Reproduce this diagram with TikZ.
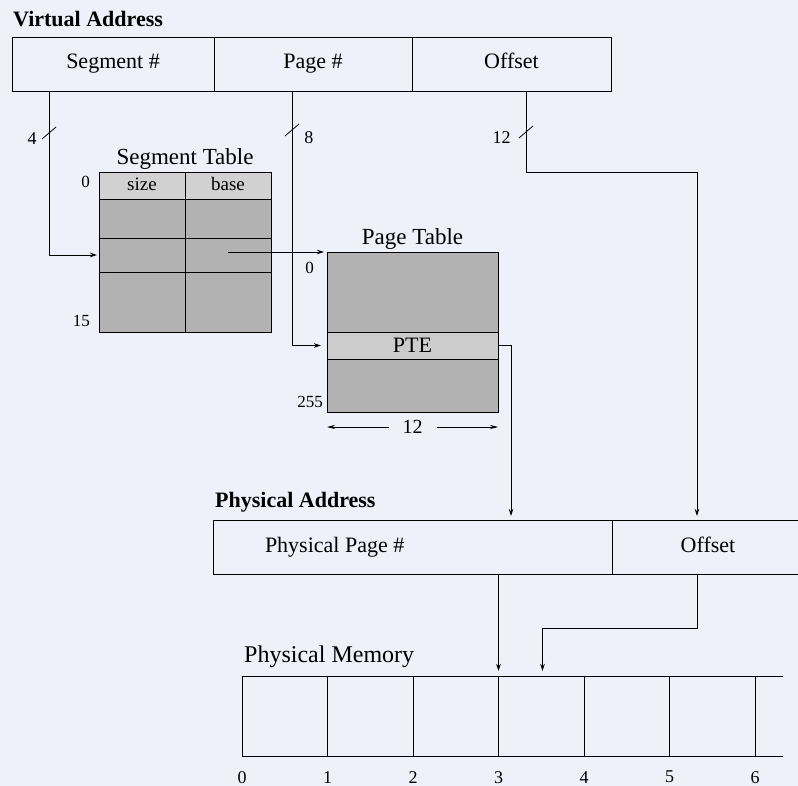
\documentclass[tikz,border=0pt]{standalone}
\usepackage{fontspec}
\setmainfont{Liberation Serif}
\usepackage{xcolor}
\usetikzlibrary{arrows.meta,positioning}
\definecolor{paper}{RGB}{238,240,250}

\begin{document}
\begin{tikzpicture}[
    x=1pt, y=-1pt,
    field/.style={draw, line width=0.9pt, minimum height=54pt, inner sep=0pt, outer sep=0pt, text height=15pt, text depth=5pt, font=\fontsize{22}{26}\selectfont},
    cell/.style={draw, line width=0.9pt, fill=black!30, inner sep=0pt, outer sep=0pt, minimum width=86pt},
    memframe/.style={draw, line width=0.9pt, minimum width=85.5pt, minimum height=80pt, inner sep=0pt, outer sep=0pt},
    title/.style={font=\fontsize{22}{26}\selectfont\bfseries, inner sep=0pt},
    caption/.style={font=\fontsize{23}{27}\selectfont, inner sep=0pt},
    idx/.style={font=\fontsize{17}{20}\selectfont, inner sep=0pt},
    tick/.style={line width=0.8pt},
    arrow/.style={-{Stealth[length=7pt,width=4.5pt]}, line width=0.9pt},
    dim/.style={{Stealth[length=8pt,width=4pt]}-{Stealth[length=8pt,width=4pt]}, line width=0.7pt}
]
\fill[paper] (0,0) rectangle (798,786);
\useasboundingbox (0,0) rectangle (798,786);

% virtual address
\node[field, minimum width=202pt] (va-seg) at (113,64) {Segment \#};
\node[field, minimum width=198pt, right=0pt of va-seg] (va-page) {Page \#};
\node[field, minimum width=199pt, right=0pt of va-page] (va-off) {Offset};
\node[title, anchor=base west] (va-title) at ([xshift=1pt,yshift=10pt]va-seg.north west) {Virtual Address};

% segment table
\node[cell, fill=black!18, minimum height=27pt, text height=12pt, text depth=2pt, font=\fontsize{19}{22}\selectfont] (st-size) at (142,185.5) {size};
\node[cell, fill=black!18, minimum height=27pt, text height=12pt, text depth=2pt, font=\fontsize{19}{22}\selectfont, right=0pt of st-size] (st-base) {base};
\node[cell, minimum height=39pt, below=0pt of st-size] (st-r1a) {};
\node[cell, minimum height=39pt, right=0pt of st-r1a] (st-r1b) {};
\node[cell, minimum height=34pt, below=0pt of st-r1a] (st-r2a) {};
\node[cell, minimum height=34pt, right=0pt of st-r2a] (st-r2b) {};
\node[cell, minimum height=60pt, below=0pt of st-r2a] (st-r3a) {};
\node[cell, minimum height=60pt, right=0pt of st-r3a] (st-r3b) {};
\node[caption, anchor=base] (st-title) at ([yshift=7pt]st-size.north east) {Segment Table};
\node[idx, anchor=east] (st-first) at ([xshift=-9pt,yshift=4pt]st-size.west) {0};
\node[idx, anchor=south east] (st-last) at ([xshift=-9pt,yshift=5pt]st-r3a.south west) {15};

% page table
\node[cell, minimum width=171pt, minimum height=80pt] (pt-top) at (412.5,292) {};
\node[cell, fill=black!20, minimum width=171pt, minimum height=27pt, font=\fontsize{22}{26}\selectfont, below=0pt of pt-top] (pt-pte) {PTE};
\node[cell, minimum width=171pt, minimum height=53pt, below=0pt of pt-pte] (pt-bot) {};
\node[caption, anchor=base] (pt-title) at ([yshift=7pt]pt-top.north) {Page Table};
\node[idx, anchor=north east] (pt-first) at ([xshift=-13pt,yshift=-10pt]pt-top.north west) {0};
\node[idx, anchor=south east] (pt-last) at ([xshift=-4pt,yshift=4pt]pt-bot.south west) {255};
\draw[dim] ([yshift=-15pt]pt-bot.south west) -- ([yshift=-15pt]pt-bot.south east)
    node[midway, fill=paper, inner xsep=14pt, inner ysep=0pt, font=\fontsize{20}{24}\selectfont] (pt-width) {12};

% physical address
\node[field, minimum width=399pt] (pa-page) at (412.5,547) {};
\node[field, draw=none, minimum height=0pt, anchor=west] (pa-page-text) at ([xshift=52pt]pa-page.west) {Physical Page \#};
\node[field, minimum width=192pt, right=0pt of pa-page] (pa-off) {Offset};
\node[title, anchor=base west] (pa-title) at ([xshift=2pt,yshift=13pt]pa-page.north west) {Physical Address};

% physical memory
\node[memframe] (mem0) at (284.75,716) {};
\node[memframe, right=0pt of mem0] (mem1) {};
\node[memframe, right=0pt of mem1] (mem2) {};
\node[memframe, right=0pt of mem2] (mem3) {};
\node[memframe, right=0pt of mem3] (mem4) {};
\node[memframe, right=0pt of mem4] (mem5) {};
\draw[line width=0.9pt] (mem5.north east) -- ++(28,0);
\draw[line width=0.9pt] (mem5.south east) -- ++(28,0);
\node[caption, font=\fontsize{24}{28}\selectfont, anchor=base west] (mem-title) at ([xshift=2pt,yshift=14pt]mem0.north west) {Physical Memory};
\node[idx, font=\fontsize{18}{22}\selectfont, anchor=north] (mem-n0) at ([yshift=-15pt]mem0.south west) {0};
\node[idx, font=\fontsize{18}{22}\selectfont, anchor=north] (mem-n1) at ([yshift=-15pt]mem1.south west) {1};
\node[idx, font=\fontsize{18}{22}\selectfont, anchor=north] (mem-n2) at ([yshift=-15pt]mem2.south west) {2};
\node[idx, font=\fontsize{18}{22}\selectfont, anchor=north] (mem-n3) at ([yshift=-15pt]mem3.south west) {3};
\node[idx, font=\fontsize{18}{22}\selectfont, anchor=north] (mem-n4) at ([yshift=-15pt]mem4.south west) {4};
\node[idx, font=\fontsize{18}{22}\selectfont, anchor=north] (mem-n5) at ([yshift=-15pt]mem5.south west) {5};
\node[idx, font=\fontsize{18}{22}\selectfont, anchor=north] (mem-n6) at ([yshift=-15pt]mem5.south east) {6};

% connectors
\coordinate (seg-out) at ([xshift=37pt]va-seg.south west);
\coordinate (page-out) at ([xshift=78pt]va-page.south west);
\coordinate (off-out) at ([xshift=114pt]va-off.south west);

\draw[arrow, shorten >=2pt] (seg-out) |- (st-r2a.west);
\draw[tick] (seg-out) ++(-7,48) node[idx, font=\fontsize{18}{22}\selectfont, anchor=east, xshift=-5pt] {4} -- ++(14,-12);
\draw[arrow, shorten >=6pt] (page-out) |- (pt-pte.west);
\draw[tick] (page-out) ++(-7,45) -- ++(14,-12) node[idx, font=\fontsize{18}{22}\selectfont, anchor=north west, xshift=5pt, yshift=-7pt] {8};
\draw[arrow, shorten >=4pt] (off-out) -- ++(0,81) -| ([xshift=85pt]pa-off.north west);
\draw[tick] (off-out) ++(-7,47) node[idx, font=\fontsize{18}{22}\selectfont, anchor=east, xshift=-8pt] {12} -- ++(14,-12);

\draw[arrow, shorten >=3pt] ([yshift=3pt]st-r2b.center) -- (pt-top.north west);
\draw[arrow, shorten >=4pt] (pt-pte.east) -| ([xshift=298pt]pa-page.north west);
\draw[arrow, shorten >=5pt] (mem3.north west |- pa-page.south) -- (mem3.north west);
\draw[arrow, shorten >=5pt] ([xshift=85pt]pa-off.south west) -- ++(0,54) -| ([xshift=44pt]mem3.north west);
\end{tikzpicture}
\end{document}
